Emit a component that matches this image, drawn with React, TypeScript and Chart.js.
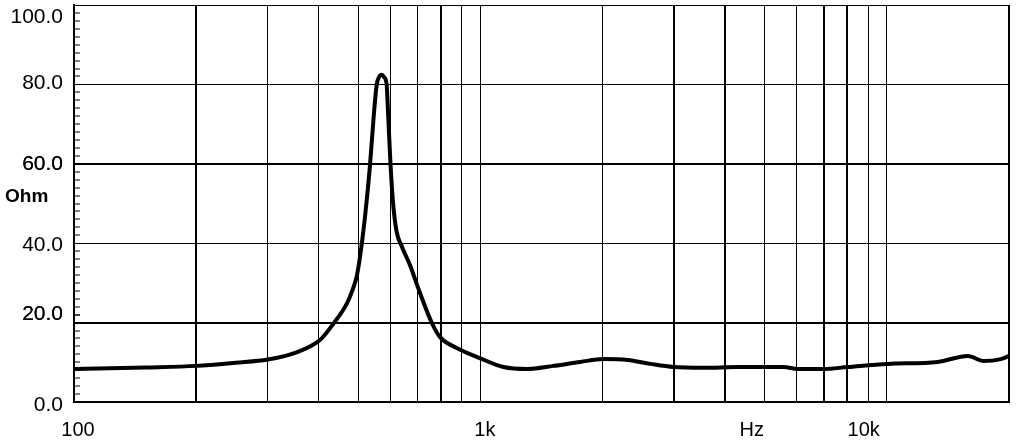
import React, { useEffect, useRef } from 'react';
import { Chart, registerables } from 'chart.js';

Chart.register(...registerables);

// Impedance curve (frequency in Hz, impedance in Ohm)
const freqHz = [
  100, 150, 200, 250, 300, 350, 403, 434, 470, 483, 496, 503, 511, 520, 535, 547, 556, 563, 571, 580,
  588, 593, 601, 610, 622, 642, 671, 710, 760, 795, 875, 1000, 1140, 1305, 1513,
  1763, 2009, 2302, 2622, 2987, 3542, 4295, 5575, 6035, 6995, 8015, 10050, 13360, 15840,
  17340, 19090, 20000,
];
const impedanceOhm = [
  8.3, 8.7, 9.1, 9.9, 10.7, 12.4, 15.6, 19.6, 24.9, 27.8, 31.5, 35.0, 40.0, 46.5, 59.5, 72.5, 80.0, 81.8, 82.4, 81.8,
  80.0, 72.5, 60.0, 50.0, 43.0, 39.0, 34.5, 27.5, 19.9, 16.4, 13.6, 11.0, 8.8, 8.3, 9.1,
  10.1, 10.8, 10.6, 9.6, 8.8, 8.6, 8.8, 8.8, 8.3, 8.3, 8.8, 9.6, 10.1, 11.6,
  10.3, 10.8, 11.6,
];

// X grid (log decades) and tick labels
const xGridValues = [
  100, 200, 300, 400, 500, 600, 700, 800, 900,
  1000, 2000, 3000, 4000, 5000, 6000, 7000, 8000, 9000,
  10000, 20000,
];
const xLabelValues = [102.3, 1026, 4655, 8777];
const xLabelTexts = ['100', '1k', 'Hz', '10k'];

// Y grid and tick labels
const yGridValues = Array.from({ length: 51 }, (_, i) => i * 2);
const yMajorValues = [0, 20, 40, 60, 80, 100];
const yLabelValues = [-0.9, 22.0, 39.6, 60.0, 80.2, 97.0];
const yLabelTexts = ['0.0', '20.0', '40.0', '60.0', '80.0', '100.0'];

// styling (not data)
const X_THICK = [200, 800, 3000, 4000, 7000, 8000, 20000];
const Y_THICK = [20, 60];
const FONT = '"Liberation Sans", Arial, Helvetica, sans-serif';

export default function App() {
  const canvasRef = useRef<HTMLCanvasElement | null>(null);

  useEffect(() => {
    const canvas = canvasRef.current;
    if (!canvas) return;
    const chart = new Chart(canvas, {
      type: 'line',
      data: {
        datasets: [
          {
            data: freqHz.map((f, i) => ({ x: f, y: impedanceOhm[i] })),
            borderColor: '#000',
            borderWidth: 4,
            pointRadius: 0,
            cubicInterpolationMode: 'monotone',
            borderJoinStyle: 'round',
            borderCapStyle: 'round',
            fill: false,
          },
        ],
      },
      options: {
        responsive: false,
        animation: false,
        devicePixelRatio: 1,
        layout: { padding: { top: 5, right: 8, left: 0, bottom: 0 } },
        plugins: { legend: { display: false }, tooltip: { enabled: false } },
        scales: {
          x: {
            type: 'logarithmic',
            min: 100,
            max: 20000,
            afterBuildTicks: (scale: any) => {
              const vals = [...xGridValues, ...xLabelValues].sort((a, b) => a - b);
              scale.ticks = vals.map((v) => ({ value: v }));
            },
            afterFit: (scale: any) => {
              scale.height = 42;
              scale.paddingLeft = 0;
              scale.paddingRight = 0;
            },
            border: { display: true, color: '#000', width: 2 },
            grid: {
              drawTicks: false,
              color: (ctx: any) =>
                xGridValues.includes(ctx.tick?.value) ? '#000' : 'rgba(0,0,0,0)',
              lineWidth: (ctx: any) => {
                const v = ctx.tick?.value;
                if (!xGridValues.includes(v)) return 0;
                return X_THICK.includes(v) ? 2 : 1;
              },
            },
            ticks: {
              autoSkip: false,
              maxRotation: 0,
              minRotation: 0,
              padding: 16,
              color: '#000',
              font: { family: FONT, size: 20 },
              callback: (value: any) => {
                const i = xLabelValues.indexOf(Number(value));
                return i >= 0 ? xLabelTexts[i] : '';
              },
            },
          },
          y: {
            type: 'linear',
            min: 0,
            max: 100,
            afterBuildTicks: (scale: any) => {
              const vals = [...yGridValues, ...yLabelValues].sort((a, b) => a - b);
              scale.ticks = vals.map((v) => ({ value: v }));
            },
            afterFit: (scale: any) => {
              scale.width = 74;
              scale.paddingTop = 0;
              scale.paddingBottom = 0;
            },
            border: { display: true, color: '#000', width: 2 },
            grid: {
              drawTicks: true,
              tickLength: -6,
              tickColor: (ctx: any) =>
                yGridValues.includes(ctx.tick?.value) ? '#000' : 'rgba(0,0,0,0)',
              tickWidth: (ctx: any) => (yGridValues.includes(ctx.tick?.value) ? 1 : 0),
              color: (ctx: any) =>
                yMajorValues.includes(ctx.tick?.value) ? '#000' : 'rgba(0,0,0,0)',
              lineWidth: (ctx: any) => {
                const v = ctx.tick?.value;
                if (!yMajorValues.includes(v)) return 0;
                return Y_THICK.includes(v) ? 2 : 1;
              },
            },
            ticks: {
              autoSkip: false,
              padding: 17,
              color: '#000',
              font: { family: FONT, size: 21 },
              callback: (value: any) => {
                const i = yLabelValues.indexOf(Number(value));
                return i >= 0 ? yLabelTexts[i] : '';
              },
            },
          },
        },
      },
    } as any);
    return () => chart.destroy();
  }, []);

  return (
    <div
      style={{
        position: 'fixed',
        left: 0,
        top: 0,
        width: 1017,
        height: 444,
        background: '#fff',
      }}
    >
      <canvas ref={canvasRef} width={1017} height={444} style={{ display: 'block' }} />
      <div
        style={{
          position: 'absolute',
          left: 5,
          top: 186,
          fontFamily: FONT,
          fontWeight: 'bold',
          fontSize: 19,
          lineHeight: '20px',
          color: '#000',
        }}
      >
        Ohm
      </div>
    </div>
  );
}
